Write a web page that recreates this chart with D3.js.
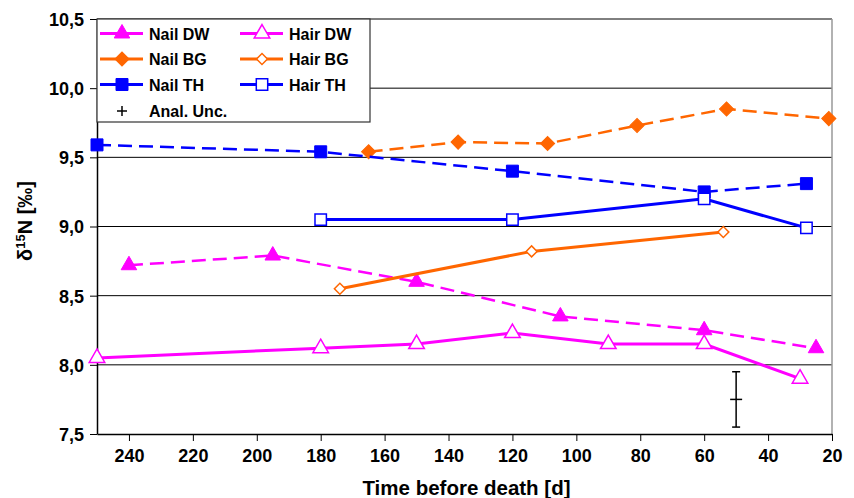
<!DOCTYPE html>
<html>
<head>
<meta charset="utf-8">
<script src="https://cdn.jsdelivr.net/npm/d3@7"></script>
<style>
  body { margin: 0; background: #fff; }
  text { font-family: "Liberation Sans", Arial, sans-serif; font-weight: bold; fill: #000; }
</style>
</head>
<body>
<div id="chart"></div>
<script>
// d15N of nail and hair vs time before death

// data
const tNailDW = [240, 195, 150, 105, 60, 25];
const vNailDW = [8.72, 8.79, 8.60, 8.35, 8.25, 8.12];
const tHairDW = [250, 180, 150, 120, 90, 60, 30];
const vHairDW = [8.05, 8.12, 8.15, 8.23, 8.15, 8.15, 7.90];
const tNailBG = [165, 137, 109, 81, 53, 21];
const vNailBG = [9.54, 9.61, 9.60, 9.73, 9.85, 9.78];
const tHairBG = [174, 114, 54];
const vHairBG = [8.55, 8.82, 8.96];
const tNailTH = [250, 180, 120, 60, 28];
const vNailTH = [9.59, 9.54, 9.40, 9.25, 9.31];
const tHairTH = [180, 120, 60, 28];
const vHairTH = [9.05, 9.05, 9.20, 8.99];
const uncT = 50, uncV = 7.75, uncErr = 0.2;
const xTicks = [240, 220, 200, 180, 160, 140, 120, 100, 80, 60, 40, 20];
const yTicks = [7.5, 8.0, 8.5, 9.0, 9.5, 10.0, 10.5];

const W = 854, H = 498;
const margin = { top: 19, right: 22, bottom: 64, left: 97 };
const width = W - margin.left - margin.right;
const height = H - margin.top - margin.bottom;

const xScale = d3.scaleLinear().domain([250, 20]).range([0, width]);
const yScale = d3.scaleLinear().domain([7.5, 10.5]).range([height, 0]);

const svg = d3.select('#chart').append('svg')
  .attr('width', W).attr('height', H);
const g = svg.append('g').attr('transform', `translate(${margin.left},${margin.top})`);

// grid lines
g.selectAll('.grid').data(yTicks.slice(1)).enter().append('line')
  .attr('x1', 0).attr('x2', width)
  .attr('y1', d => yScale(d)).attr('y2', d => yScale(d))
  .attr('stroke', '#000').attr('stroke-width', 1);
// right border
g.append('line').attr('x1', width).attr('x2', width).attr('y1', 0).attr('y2', height)
  .attr('stroke', '#999').attr('stroke-width', 1.5);

// axes
const fmt = d => d3.format('.1f')(d).replace('.', ',');
const yAxis = g.append('g').call(d3.axisLeft(yScale).tickValues(yTicks).tickSize(7).tickSizeOuter(0).tickPadding(6).tickFormat(fmt));
const xAxis = g.append('g').attr('transform', `translate(0,${height})`)
  .call(d3.axisBottom(xScale).tickValues(xTicks).tickSize(7).tickSizeOuter(0).tickPadding(8));
[yAxis, xAxis].forEach(a => {
  a.select('.domain').attr('stroke', '#000').attr('stroke-width', 1.5);
  a.selectAll('.tick line').attr('stroke', '#000').attr('stroke-width', 1);
  a.selectAll('text').style('font-size', '18px').style('font-family', '"Liberation Sans", Arial, sans-serif').style('font-weight', 'bold');
});
yAxis.selectAll('text').attr('dy', '0.36em');

// axis titles
svg.append('text').attr('x', margin.left + width / 2 + 2).attr('y', 495)
  .attr('text-anchor', 'middle').style('font-size', '20.5px').text('Time before death [d]');
const yt = svg.append('text').attr('transform', 'translate(32,221) rotate(-90)')
  .attr('text-anchor', 'middle').style('font-size', '20px');
yt.append('tspan').text('δ');
yt.append('tspan').attr('dy', -7).style('font-size', '13px').text('15');
yt.append('tspan').attr('dy', 7).text('N [‰]');

// series
const series = [
  { name: 'Nail DW', t: tNailDW, v: vNailDW, color: '#FF00FF', shape: d3.symbolTriangle, rot: 0, filled: true, dash: true, size: 105 },
  { name: 'Hair DW', t: tHairDW, v: vHairDW, color: '#FF00FF', shape: d3.symbolTriangle, rot: 0, filled: false, dash: false, size: 105 },
  { name: 'Nail BG', t: tNailBG, v: vNailBG, color: '#FF6600', shape: d3.symbolSquare, rot: 45, filled: true, dash: true, size: 100 },
  { name: 'Hair BG', t: tHairBG, v: vHairBG, color: '#FF6600', shape: d3.symbolSquare, rot: 45, filled: false, dash: false, size: 60 },
  { name: 'Nail TH', t: tNailTH, v: vNailTH, color: '#0000FF', shape: d3.symbolSquare, rot: 0, filled: true, dash: true, size: 144 },
  { name: 'Hair TH', t: tHairTH, v: vHairTH, color: '#0000FF', shape: d3.symbolSquare, rot: 0, filled: false, dash: false, size: 130 },
];

const line = d3.line().x(d => xScale(d[0])).y(d => yScale(d[1]));

series.forEach(s => {
  const pts = s.t.map((t, i) => [t, s.v[i]]);
  g.append('path').datum(pts)
    .attr('d', line)
    .attr('fill', 'none')
    .attr('stroke', s.color)
    .attr('stroke-width', s.dash ? 2.5 : 3)
    .attr('stroke-dasharray', s.dash ? '14,7' : null);
  g.selectAll(null).data(pts).enter().append('path')
    .attr('transform', d => `translate(${xScale(d[0])},${yScale(d[1])}) rotate(${s.rot})`)
    .attr('d', d3.symbol().type(s.shape).size(s.size))
    .attr('fill', s.filled ? s.color : '#fff')
    .attr('stroke', s.color)
    .attr('stroke-width', s.filled ? 1 : 1.5);
});

// analytical uncertainty
const ux = xScale(uncT);
const eb = g.append('g').attr('stroke', '#000').attr('stroke-width', 1.5);
eb.append('line').attr('x1', ux).attr('x2', ux).attr('y1', yScale(uncV + uncErr)).attr('y2', yScale(uncV - uncErr));
eb.append('line').attr('x1', ux - 4).attr('x2', ux + 4).attr('y1', yScale(uncV + uncErr)).attr('y2', yScale(uncV + uncErr));
eb.append('line').attr('x1', ux - 4).attr('x2', ux + 4).attr('y1', yScale(uncV - uncErr)).attr('y2', yScale(uncV - uncErr));
eb.append('line').attr('x1', ux - 6).attr('x2', ux + 6).attr('y1', yScale(uncV)).attr('y2', yScale(uncV));

// legend
const leg = svg.append('g').attr('transform', 'translate(97,19)');
leg.append('rect').attr('width', 273).attr('height', 103)
  .attr('fill', '#fff').attr('stroke', '#333').attr('stroke-width', 1.2);
series.forEach((s, i) => {
  const col = i % 2, row = Math.floor(i / 2);
  const lx = col === 0 ? 3 : 143, ly = 14.5 + row * 25.5;
  const item = leg.append('g').attr('transform', `translate(${lx},${ly})`);
  item.append('line').attr('x1', 0).attr('x2', 43).attr('y1', 0).attr('y2', 0)
    .attr('stroke', s.color).attr('stroke-width', 3);
  item.append('path').attr('transform', `translate(22,0) rotate(${s.rot})`)
    .attr('d', d3.symbol().type(s.shape).size(s.size))
    .attr('fill', s.filled ? s.color : '#fff')
    .attr('stroke', s.color).attr('stroke-width', s.filled ? 1 : 1.5);
  item.append('text').attr('x', 49).attr('y', 6).style('font-size', '16px').text(s.name);
});
const ul = leg.append('g').attr('transform', 'translate(25,92)').attr('stroke', '#000').attr('stroke-width', 1.5);
ul.append('line').attr('x1', -5).attr('x2', 5).attr('y1', 0).attr('y2', 0);
ul.append('line').attr('x1', 0).attr('x2', 0).attr('y1', -5).attr('y2', 5);
leg.append('text').attr('x', 52).attr('y', 98).style('font-size', '16px').text('Anal. Unc.');
</script>
</body>
</html>
